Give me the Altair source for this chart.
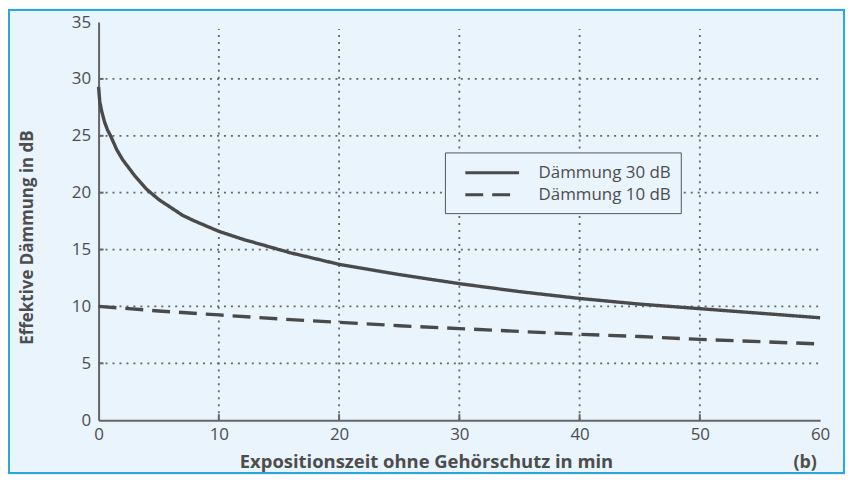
import altair as alt
import pandas as pd

# ---------------- data ----------------
series_names = ["Dämmung 30 dB", "Dämmung 10 dB"]

t30 = [0, 0.1, 0.25, 0.5, 0.75, 1, 1.5, 2, 3, 4, 5, 6, 7, 8, 10, 12, 14, 16, 18,
       20, 25, 30, 35, 40, 45, 50, 55, 60]
v30 = [29.3, 28.0, 27.2, 26.2, 25.5, 25.0, 23.8, 22.9, 21.5, 20.3, 19.4, 18.7, 18.0,
       17.5, 16.6, 15.9, 15.3, 14.7, 14.2, 13.7, 12.8, 12.0, 11.3, 10.7, 10.2, 9.8,
       9.4, 9.0]

t10 = [0, 5, 10, 15, 20, 25, 30, 35, 40, 45, 50, 55, 60]
v10 = [10.0, 9.6, 9.25, 8.9, 8.6, 8.3, 8.05, 7.8, 7.55, 7.35, 7.1, 6.9, 6.7]

x_ticks = [0, 10, 20, 30, 40, 50, 60]
y_ticks = [0, 5, 10, 15, 20, 25, 30, 35]
x_grid = [10, 20, 30, 40, 50]
y_grid = [5, 10, 15, 20, 25, 30]

x_title = "Expositionszeit ohne Gehörschutz in min"
y_title = "Effektive Dämmung in dB"
panel_tag = ["(b)"]

# ---------------- styling ----------------
FONT = "Open Sans"
BG = "#eaf4fd"
INK = "#4a4a4a"
AXC = "#666666"
TXT = "#4d4d4d"
W, H = 725, 400

df = pd.DataFrame({
    "t": t30 + t10,
    "v": v30 + v10,
    "serie": [series_names[0]] * len(t30) + [series_names[1]] * len(t10),
})

xs = alt.Scale(domain=[0, 60], nice=False, zero=False)
ys = alt.Scale(domain=[0, 35], nice=False)

x_axis = alt.Axis(values=x_ticks, title=x_title, titleX=329, titleY=48,
                  titleAlign="center", titleBaseline="alphabetic",
                  titleFontSize=18.5,
                  labelPadding=6, labelFlush=False, format="d")
y_axis = alt.Axis(values=y_ticks, title=y_title, titleAngle=270,
                  titleX=-66, titleY=216, titleAlign="center",
                  titleBaseline="alphabetic", titleFontSize=17,
                  labelPadding=8, labelFlush=False, format="d")

frame = alt.Chart(pd.DataFrame({"a": [0]})).mark_rect(
    fillOpacity=0, stroke="#2ba6de", strokeWidth=2
).encode(
    x=alt.value(-90), x2=alt.value(W + 24), y=alt.value(-12), y2=alt.value(H + 53)
)

vgrid = alt.Chart(pd.DataFrame({"t": x_grid})).mark_rule(
    color=AXC, strokeDash=[2, 5], strokeWidth=1.8
).encode(
    x=alt.X("t:Q", scale=xs, axis=x_axis), y=alt.value(H), y2=alt.value(7)
)

hgrid = alt.Chart(pd.DataFrame({"v": y_grid})).mark_rule(
    color=AXC, strokeDash=[2, 5], strokeWidth=1.8
).encode(
    y=alt.Y("v:Q", scale=ys, axis=y_axis), x=alt.value(0), x2=alt.value(W)
)

xtick = alt.Chart(pd.DataFrame({"t": x_grid})).mark_rule(
    color=AXC, strokeWidth=2
).encode(
    x=alt.X("t:Q", scale=xs, axis=x_axis), y=alt.value(H), y2=alt.value(H - 6)
)

ytick = alt.Chart(pd.DataFrame({"v": y_grid})).mark_rule(
    color=AXC, strokeWidth=2
).encode(
    y=alt.Y("v:Q", scale=ys, axis=y_axis), x=alt.value(0), x2=alt.value(5)
)

lines = alt.Chart(df).mark_line(strokeWidth=3.4, color=INK, strokeCap="butt").encode(
    x=alt.X("t:Q", scale=xs, axis=x_axis),
    y=alt.Y("v:Q", scale=ys, axis=y_axis),
    strokeDash=alt.StrokeDash(
        "serie:N",
        scale=alt.Scale(domain=series_names, range=[[1, 0], [18, 9]]),
        legend=alt.Legend(
            title=None, orient="none", legendX=348, legendY=131,
            symbolType="M-3,0H3", symbolSize=324, symbolStrokeWidth=3,
            symbolStrokeColor=INK, symbolOffset=27,
            labelFont=FONT, labelFontSize=17,
            labelColor=TXT, labelOffset=36, strokeColor="#555555",
            fillColor=BG, padding=10, rowPadding=3,
        ),
    ),
)

tag = alt.Chart(pd.DataFrame({"lab": panel_tag})).mark_text(
    font=FONT, fontSize=18, fontWeight="bold", color=TXT, align="center",
    baseline="alphabetic"
).encode(
    text="lab:N", x=alt.value(W - 15), y=alt.value(H + 48)
)

chart = alt.layer(frame, vgrid, hgrid, xtick, ytick, lines, tag).properties(
    width=W, height=H,
    autosize=alt.AutoSizeParams(type="none"),
    padding={"left": 91, "top": 13, "right": 25, "bottom": 54},
    background=BG,
).configure_view(stroke=None).configure_axis(
    labelFont=FONT, labelFontSize=17, labelColor=TXT,
    domainColor=AXC, domainWidth=2, ticks=False, tickSize=0, grid=False,
    titleFont=FONT, titleFontWeight="bold", titleColor=TXT,
)

chart.save("out.html", embed_options={"renderer": "svg", "actions": False})
